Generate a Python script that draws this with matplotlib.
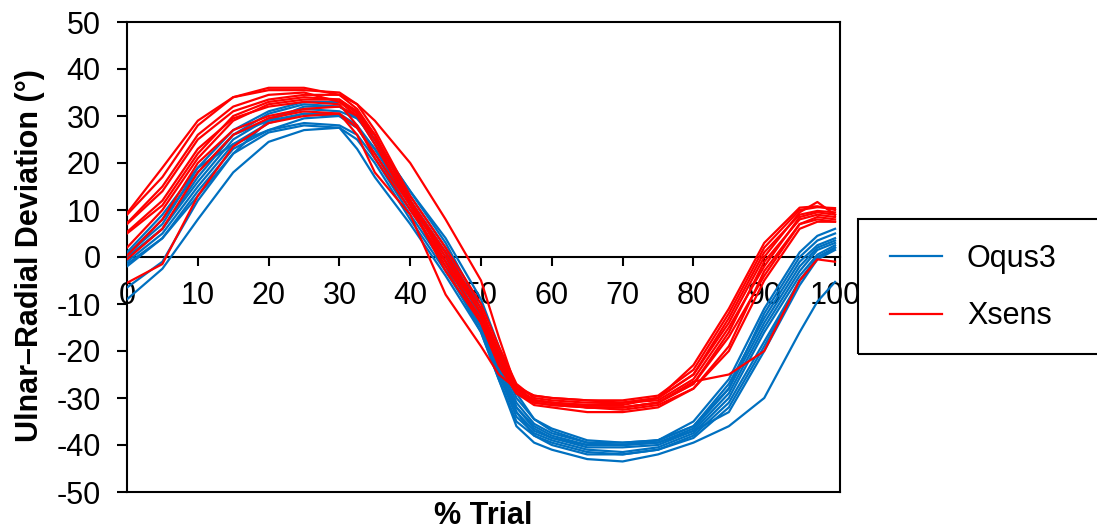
import numpy as np
import matplotlib
matplotlib.use("Agg")
import matplotlib.pyplot as plt
from matplotlib.patches import Rectangle

plt.rcParams['font.family'] = ['Liberation Sans', 'DejaVu Sans']
plt.rcParams['axes.unicode_minus'] = False

# % trial (read points)
trial = [0, 5, 10, 15, 20, 25, 30, 32.5, 35, 40, 45, 50, 52.5, 55, 57.5,
         60, 65, 70, 75, 80, 85, 90, 95, 97.5, 100]

# Oqus3 trials (deg)
oqus3 = [
    [1, 9, 19, 27, 31, 33, 33, 31, 25, 13, 2, -12, -22, -31, -35.5, -37.5, -39.5, -39.5, -39, -36, -27, -13, -1, 2.5, 4],
    [0.4, 8, 18, 26, 30.5, 32.5, 32, 30, 24, 12, 1, -13, -23, -32, -36, -38, -40, -40, -39, -35, -26, -11, 1, 4.5, 6],
    [0, 6, 16, 25, 29.5, 31.5, 31, 29.5, 25, 14, 3, -11, -21, -30, -34.5, -36.5, -39, -39.5, -39, -36, -28, -14, -2, 2, 3.5],
    [-0.2, 6, 17, 26, 29, 30.5, 30.5, 28, 23, 11, 0, -14, -24, -33, -37, -38.5, -40.5, -40.5, -40, -37, -29, -15, -3, 1.5, 3],
    [-1, 5, 15, 24, 28.5, 30.5, 30, 27.5, 22, 10, -1, -15, -25, -34, -37.5, -39, -41, -41.5, -40.5, -37.5, -30, -16, -4, 0.5, 2.5],
    [-1.5, 4, 14, 23, 27, 28.5, 28, 26, 21, 9, -2, -16, -26, -35, -38, -39.5, -41.5, -42, -41, -38, -31, -18, -5, 0, 2],
    [-2, 4, 13, 22, 26.5, 28, 27.5, 25, 20, 8, -3, -15, -24.5, -33, -38, -40, -42, -42, -41, -38.5, -32, -19, -5, -0.5, 1.5],
    [-6.5, -1, 12, 22, 29, 32, 32, 29.5, 25, 14, 4, -9, -19, -29, -34.5, -37, -39.5, -40, -39.5, -36.5, -28, -12, 0, 3.5, 5],
    [-9, -2.5, 8, 18, 24.5, 27, 27.5, 23, 17, 7, -4, -16, -26, -36, -39.5, -41, -43, -43.5, -42, -39.5, -36, -30, -16, -9.5, -5.3],
    [0.5, 7, 19, 24, 27, 29.5, 30, 27.5, 23, 12, 1, -13, -23, -32, -36.5, -38.5, -40, -40, -39.5, -37, -33, -20, -6, -0.5, 2],
]

# Xsens trials (deg)
xsens = [
    [9, 17, 28, 34, 36, 36, 34.5, 31.5, 26, 12, -1, -12, -21, -28, -30.5, -31, -31.5, -31.5, -30, -25, -13, 1, 9, 9.8, 9.5],
    [9.3, 19, 29, 34, 35.5, 35.5, 35, 32.5, 27, 13, 2, -10, -19, -27, -30, -30.5, -31, -31, -30, -23, -11, 3, 10.5, 10.8, 10],
    [7.2, 15, 26, 32, 34.5, 35, 33, 30, 24, 11, -2, -13, -22, -28.5, -31, -31.5, -32, -32, -31, -27, -16, -1, 8, 9, 8.5],
    [7, 14, 25, 31, 33.5, 34.5, 34.5, 32.5, 29, 20, 8, -5, -17, -28, -30.5, -31, -32, -32.5, -31.5, -28, -19, -3, 7, 8.5, 8],
    [5.3, 12, 23, 29.5, 32, 33, 32.5, 28, 21, 10, -1, -14, -23, -29, -31.5, -32, -33, -33, -32, -28, -20, -5, 6, 7.5, 7.5],
    [5, 11, 22, 30, 33, 34, 33.5, 30.5, 25, 11, 1, -11, -20, -28, -30.5, -31, -31.5, -31, -30.5, -26, -15, -2, 8.5, 9.5, 9],
    [0.3, 8, 20, 27, 30, 31.5, 32, 30, 26, 12, 0, -12, -20.5, -27.5, -29.5, -30, -30.5, -30.5, -29.5, -24, -12, 2, 10, 10.6, 10.4],
    [-0.5, 6, 18, 26, 29.5, 31, 30.5, 26, 18, 9, -8, -19, -25, -28, -29.5, -30, -30.5, -31, -30, -25, -14, 0, 9.5, 11.7, 9],
    [-5.5, -1.5, 13, 23.5, 28.5, 30, 30.5, 27.5, 22, 11, -3, -14, -23, -29, -31, -31.5, -32, -32, -31, -27, -17, -4, 7, 8, 7.5],
    [2, 10, 21, 29, 32.5, 33.5, 33.5, 31, 26, 12, 1, -12, -21, -28, -30.5, -31, -32, -32, -31, -26.5, -25, -20, -5, -0.5, -1],
]

blue = '#0070C0'
red = '#FF0000'

fig = plt.figure(figsize=(10.97, 5.31), dpi=100)
ax = fig.add_axes([127 / 1097, 39 / 531, 713 / 1097, 470 / 531])

for i, y in enumerate(oqus3):
    ax.plot(trial, y, color=blue, lw=1.6, zorder=3, label='Oqus3' if i == 0 else None)
for i, y in enumerate(xsens):
    ax.plot(trial, y, color=red, lw=1.6, zorder=3, label='Xsens' if i == 0 else None)

ax.set_xlim(0, 100.7)
ax.set_ylim(-50, 50)
ax.set_xticks(range(0, 101, 10))
ax.set_yticks(range(-50, 51, 10))

# x axis crosses at zero, plot area keeps its box
ax.spines['bottom'].set_position(('data', 0))
for s in ax.spines.values():
    s.set_linewidth(1.5)
    s.set_color('black')
ax.axhline(-50, color='black', lw=1.5, clip_on=False, zorder=2.5)

ax.tick_params(axis='x', direction='out', length=6.5, width=1.5, pad=11, labelsize=22)
ax.tick_params(axis='y', direction='out', length=7, width=1.5, pad=12, labelsize=22)

fig.text(30 / 1097, 1 - 256 / 531, 'Ulnar\u2013Radial Deviation (\u00b0)', fontsize=22,
         fontweight='bold', rotation=90, ha='center', va='center')
fig.text(483 / 1097, 1 - 516 / 531, '% Trial', fontsize=22, fontweight='bold',
         ha='center', va='center')

# legend outside the plot, frame cut by the right edge
fig.patches.append(Rectangle((858 / 1097, 1 - 354 / 531), 0.3, 135 / 531,
                             transform=fig.transFigure, fill=False,
                             edgecolor='black', lw=1.5))
leg = fig.legend(loc='center left', bbox_to_anchor=(890 / 1097, 1 - 287.5 / 531),
                 fontsize=22, frameon=False, handlelength=1.7, handletextpad=0.82,
                 labelspacing=0.9, borderpad=0, borderaxespad=0)

fig.savefig('out.png', dpi=100)
